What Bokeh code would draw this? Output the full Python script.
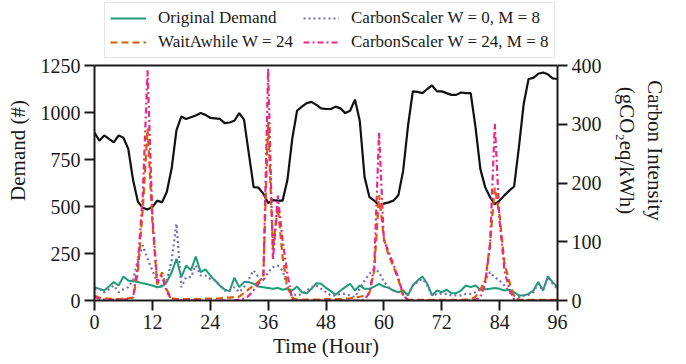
from bokeh.plotting import figure
from bokeh.models import Range1d, LinearAxis, Legend, LegendItem, FixedTicker, ColumnDataSource, Span
from bokeh.embed import file_html
from bokeh.resources import INLINE

hours = list(range(97))

carbon_intensity = [286, 272, 281, 275, 269, 281, 277, 258, 205, 168, 158, 155, 159, 170, 167, 185,
                    225, 290, 313, 309, 312, 315, 319, 316, 311, 310, 309, 302, 303, 306, 319, 308,
                    250, 193, 192, 182, 166, 171, 170, 170, 205, 275, 323, 330, 336, 338, 333, 327,
                    326, 326, 330, 327, 319, 323, 342, 306, 210, 176, 170, 162, 165, 167, 170, 179,
                    221, 297, 356, 355, 353, 360, 366, 356, 356, 353, 350, 350, 354, 353, 353, 295,
                    224, 193, 176, 164, 170, 179, 187, 194, 261, 335, 377, 379, 386, 388, 385, 378, 377]

original_demand = [71, 62, 53, 75, 98, 80, 128, 106, 103, 98, 92, 86, 80, 70, 74, 100,
                   150, 222, 124, 186, 160, 234, 151, 165, 133, 106, 80, 57, 50, 121, 71, 98,
                   98, 89, 74, 71, 67, 62, 67, 57, 62, 53, 74, 44, 39, 62, 92, 89,
                   67, 50, 30, 53, 71, 89, 53, 80, 62, 62, 74, 89, 74, 67, 53, 44,
                   53, 27, 80, 106, 128, 89, 27, 53, 44, 57, 39, 39, 53, 80, 71, 80,
                   57, 60, 62, 67, 62, 53, 57, 44, 27, 27, 35, 53, 98, 53, 128, 98, 71]

waitawhile_w24 = [27, 15, 10, 10, 8, 8, 10, 12, 15, 150, 480, 915, 420, 85, 150, 55,
                  12, 8, 8, 8, 8, 8, 8, 10, 10, 10, 12, 15, 15, 18, 20, 40,
                  60, 80, 100, 125, 950, 270, 500, 230, 70, 15, 5, 5, 5, 5, 5, 5,
                  8, 8, 8, 8, 10, 12, 15, 20, 25, 40, 160, 560, 330, 240, 180, 110,
                  30, 5, 3, 3, 3, 3, 3, 3, 3, 3, 3, 3, 3, 5, 5, 20,
                  60, 100, 300, 600, 450, 200, 100, 20, 5, 3, 3, 3, 3, 3, 3, 3, 3]

carbonscaler_w0 = [62, 62, 44, 60, 80, 44, 60, 71, 110, 220, 293, 222, 160, 98, 74, 106,
                   213, 408, 71, 124, 124, 186, 133, 133, 115, 106, 80, 53, 53, 71, 44, 71,
                   115, 160, 124, 106, 151, 177, 186, 160, 71, 35, 27, 35, 53, 71, 80, 62,
                   44, 27, 27, 35, 35, 27, 18, 62, 106, 142, 168, 151, 98, 71, 53, 44,
                   35, 35, 80, 98, 115, 80, 27, 35, 35, 35, 27, 27, 27, 35, 35, 44,
                   62, 106, 151, 124, 106, 80, 44, 27, 18, 27, 30, 44, 89, 53, 124, 89, 62]

carbonscaler_w24 = [20, 10, 5, 5, 5, 5, 5, 8, 15, 200, 560, 1225, 450, 100, 130, 45,
                    5, 0, 0, 0, 0, 0, 0, 0, 0, 0, 0, 0, 0, 0, 5, 10,
                    25, 55, 90, 110, 1234, 213, 558, 320, 140, 5, 0, 0, 0, 0, 0, 0,
                    0, 0, 0, 0, 0, 0, 0, 0, 5, 40, 180, 895, 320, 260, 190, 120,
                    30, 0, 0, 0, 0, 0, 0, 0, 0, 0, 0, 0, 0, 0, 0, 5,
                    15, 90, 290, 940, 420, 160, 60, 5, 0, 0, 0, 0, 0, 0, 0, 0, 0]

x_ticks = [0, 12, 24, 36, 48, 60, 72, 84, 96]
left_ticks = [0, 250, 500, 750, 1000, 1250]
right_ticks = [0, 100, 200, 300, 400]

FONT = "Liberation Serif"
INK = "#1a1a1a"

# layout (pixels)
FIG_W = 670
FIG_H = 360
BORDER_LEFT = 94
BORDER_RIGHT = FIG_W - BORDER_LEFT - 470
FRAME_H = 300
BORDER_BOTTOM = FIG_H - FRAME_H
DATA_H = 235            # pixels between value 0 and the top of the axes box
LEFT_MAX = left_ticks[-1]
RIGHT_MAX = right_ticks[-1]
left_top = LEFT_MAX * FRAME_H / DATA_H
right_top = RIGHT_MAX * FRAME_H / DATA_H

src = ColumnDataSource(dict(h=hours, ci=carbon_intensity, orig=original_demand,
                            wa=waitawhile_w24, cs0=carbonscaler_w0, cs24=carbonscaler_w24))

p = figure(width=FIG_W, height=FIG_H, x_range=Range1d(0, 96), y_range=Range1d(0, left_top),
           output_backend="svg", toolbar_location=None,
           min_border_left=BORDER_LEFT, min_border_right=BORDER_RIGHT, min_border_top=0,
           min_border_bottom=BORDER_BOTTOM)
p.extra_y_ranges = {"ci": Range1d(0, right_top)}
p.grid.visible = False
p.outline_line_color = None
p.background_fill_color = "white"
p.border_fill_color = "white"

r_ci = p.line("h", "ci", source=src, y_range_name="ci", line_color="#111111", line_width=2.2)
r_orig = p.line("h", "orig", source=src, line_color="#1b9e77", line_width=2)
r_cs0 = p.line("h", "cs0", source=src, line_color="#7570b3", line_width=2.2, line_dash="2 3")
r_wa = p.line("h", "wa", source=src, line_color="#d95f02", line_width=2.2, line_dash="7 4")
r_cs24 = p.line("h", "cs24", source=src, line_color="#e7298a", line_width=2.2, line_dash="6 3 2 3")

p.add_layout(Span(location=LEFT_MAX, dimension="width", line_color=INK, line_width=2))

def style_axis(ax, ticks):
    ax.ticker = FixedTicker(ticks=ticks)
    ax.bounds = (ticks[0], ticks[-1])
    ax.minor_tick_line_color = None
    ax.major_tick_in = 0
    ax.major_tick_out = 10
    ax.major_tick_line_width = 2
    ax.major_tick_line_color = INK
    ax.axis_line_width = 2
    ax.axis_line_color = INK
    ax.major_label_text_font = FONT
    ax.major_label_text_font_size = "20px"
    ax.major_label_text_color = INK
    ax.major_label_standoff = 4
    ax.axis_label_text_font = FONT
    ax.axis_label_text_font_size = "21px"
    ax.axis_label_text_font_style = "normal"
    ax.axis_label_text_color = INK

style_axis(p.xaxis[0], x_ticks)
p.xaxis[0].axis_label = "Time (Hour)"
p.xaxis[0].axis_label_standoff = 2
p.xaxis[0].major_label_standoff = 4
style_axis(p.yaxis[0], left_ticks)
p.yaxis[0].axis_label = "Demand (#)"
p.yaxis[0].axis_label_standoff = 8

rax = LinearAxis(y_range_name="ci")
style_axis(rax, right_ticks)
rax.axis_label = "Carbon Intensity\n(gCO\u2082eq/kWh)"
rax.axis_label_standoff = 10
p.add_layout(rax, "right")

legend = Legend(items=[LegendItem(label="Original Demand", renderers=[r_orig]),
                       LegendItem(label="WaitAwhile W = 24", renderers=[r_wa]),
                       LegendItem(label="CarbonScaler W = 0, M = 8", renderers=[r_cs0]),
                       LegendItem(label="CarbonScaler W = 24, M = 8", renderers=[r_cs24])],
                ncols=2, location=(10, DATA_H + 7))
legend.label_text_font = FONT
legend.label_text_font_size = "17px"
legend.label_text_color = INK
legend.glyph_width = 36
legend.glyph_height = 20
legend.label_standoff = 12
legend.label_width = 141
legend.spacing = 4
legend.padding = 5
legend.margin = 0
legend.border_line_color = "#cccccc"
legend.border_line_width = 1
legend.background_fill_alpha = 1
p.add_layout(legend, "center")

open("out.html", "w").write(file_html(p, INLINE))
